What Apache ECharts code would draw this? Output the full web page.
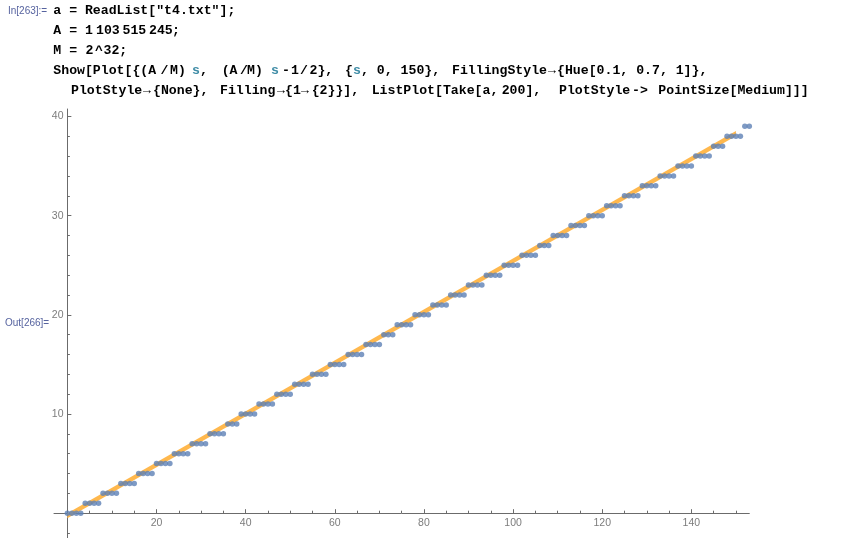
<!DOCTYPE html>
<html><head><meta charset="utf-8">
<script src="https://cdn.jsdelivr.net/npm/echarts@6/dist/echarts.min.js"></script>
<style>html,body{margin:0;padding:0;background:#fff}#c{width:844px;height:538px}</style>
</head><body><div id="c"></div>
<script>
// ListPlot values a[n], plotted at x = xStart + index
const xStart = 0;
const pointValues = [
  0,0,0,0, 1,1,1,1, 2,2,2,2, 3,3,3,3, 4,4,4,4, 5,5,5,5, 6,6,6,6, 7,7,7,7, 8,8,8,8, 9,9,9,
  10,10,10,10, 11,11,11,11, 12,12,12,12, 13,13,13,13, 14,14,14,14, 15,15,15,15, 16,16,16,16, 17,17,17,17, 18,18,18,
  19,19,19,19, 20,20,20,20, 21,21,21,21, 22,22,22,22, 23,23,23,23, 24,24,24,24, 25,25,25,25, 26,26,26,26, 27,27,27,
  28,28,28,28, 29,29,29,29, 30,30,30,30, 31,31,31,31, 32,32,32,32, 33,33,33,33, 34,34,34,34, 35,35,35,35, 36,36,36,36, 37,37,37,
  38,38,38,38, 39,39
];
// filled band between (A/M)s and (A/M)s - 1/2, s from 0 to 150
const bandS = [0, 150];
const bandUpper = [0, 38.54];
const bandLower = [-0.5, 38.04];

const xMajorTicks = [20, 40, 60, 80, 100, 120, 140];
const xMinorTicks = [5, 10, 15, 25, 30, 35, 45, 50, 55, 65, 70, 75, 85, 90, 95, 105, 110, 115, 125, 130, 135, 145, 150];
const yMajorTicks = [10, 20, 30, 40];
const yMinorTicks = [-2, 2, 4, 6, 8, 12, 14, 16, 18, 22, 24, 26, 28, 32, 34, 36, 38];

const TEAL = '#3f8ca6', INK = '#000000';
const codeLines = [
  {y: 11, parts: [['a = ReadList["t4.txt"];', 53.3, INK]]},
  {y: 31, parts: [['A =', 53.3, INK], ['1', 85, INK], ['103', 96, INK], ['515', 122.5, INK], ['245', 149, INK], [';', 172, INK]]},
  {y: 51, parts: [['M =', 53.3, INK], ['2', 85.5, INK], ['^', 95, INK], ['32;', 103.5, INK]]},
  {y: 71, parts: [['Show[Plot[{(A', 53.3, INK], ['/', 160.5, INK], ['M)', 170, INK], ['s', 192, TEAL], [',', 200, INK],
    ['(A', 221.7, INK], ['/', 240, INK], ['M)', 247, INK], ['s', 271, TEAL], ['-', 282, INK], ['1', 291, INK], ['/', 300, INK],
    ['2},', 309.5, INK], ['{', 345, INK], ['s', 353, TEAL], [', 0, 150},', 361, INK], ['FillingStyle', 452, INK],
    ['\u2192', 548, INK], ['{Hue[0.1, 0.7, 1]},', 557, INK]]},
  {y: 91, parts: [['PlotStyle', 71, INK], ['\u2192', 143, INK], ['{None},', 153, INK], ['Filling', 220, INK], ['\u2192', 277, INK],
    ['{1', 285, INK], ['\u2192', 301, INK], ['{2}}],', 311.7, INK], ['ListPlot[Take[a,', 371.7, INK], ['200],', 501.7, INK],
    ['PlotStyle', 559, INK], ['->', 632, INK], ['PointSize[Medium]]]', 658.3, INK]]}
];

const graphics = [];
codeLines.forEach(l => l.parts.forEach(p => {
  graphics.push({type: 'text', x: p[1], y: l.y, silent: true,
    style: {text: p[0], fill: p[2], font: 'bold 13.2px "Liberation Mono", "DejaVu Sans Mono", monospace', verticalAlign: 'middle'}});
}));
graphics.push({type: 'text', x: 8, y: 11, silent: true,
  style: {text: 'In[263]:=', fill: '#56639f', font: '10px "Liberation Sans", Arial, sans-serif', verticalAlign: 'middle'}});
graphics.push({type: 'text', x: 5, y: 323, silent: true,
  style: {text: 'Out[266]=', fill: '#56639f', font: '10px "Liberation Sans", Arial, sans-serif', verticalAlign: 'middle'}});

const AX = '#6b6b6b', LBL = '#7c7c7c';
const chart = echarts.init(document.getElementById('c'), null, {renderer: 'canvas'});
chart.setOption({
  animation: false,
  backgroundColor: '#ffffff',
  graphic: graphics,
  grid: {left: 54, right: 94.7, top: 109, bottom: 0, outerBoundsMode: 'none', containLabel: false},
  xAxis: [
    {type: 'value', position: 'bottom', min: -3, max: 153, splitLine: {show: false},
      axisLine: {onZero: true, lineStyle: {color: AX, width: 1}},
      axisTick: {inside: true, length: 4, customValues: xMajorTicks, lineStyle: {color: AX}},
      axisLabel: {customValues: xMajorTicks, color: LBL, fontSize: 10.5, fontFamily: '"Liberation Sans", Arial, sans-serif', margin: -20.5}},
    {type: 'value', position: 'bottom', min: -3, max: 153, splitLine: {show: false},
      axisLine: {show: false, onZero: true, onZeroAxisIndex: 0},
      axisTick: {inside: true, length: 2.5, customValues: xMinorTicks, lineStyle: {color: AX}},
      axisLabel: {show: false}}
  ],
  yAxis: [
    {type: 'value', position: 'left', min: -2.5, max: 40.75, splitLine: {show: false},
      axisLine: {onZero: true, lineStyle: {color: AX, width: 1}},
      axisTick: {inside: true, length: 4, customValues: yMajorTicks, lineStyle: {color: AX}},
      axisLabel: {customValues: yMajorTicks, color: LBL, fontSize: 10.5, fontFamily: '"Liberation Sans", Arial, sans-serif', margin: -9.5}},
    {type: 'value', position: 'left', min: -2.5, max: 40.75, splitLine: {show: false},
      axisLine: {show: false, onZero: true, onZeroAxisIndex: 0},
      axisTick: {inside: true, length: 2.5, customValues: yMinorTicks, lineStyle: {color: AX}},
      axisLabel: {show: false}}
  ],
  series: [
    {type: 'custom', silent: true, z: 1, xAxisIndex: 0, yAxisIndex: 0,
      data: [[bandS[0], bandLower[0], bandUpper[0], bandS[1], bandLower[1], bandUpper[1]]],
      encode: {x: [0, 3], y: [1, 2, 4, 5]},
      renderItem: function (params, api) {
        const pts = [
          api.coord([api.value(0), api.value(2)]),
          api.coord([api.value(3), api.value(5)]),
          api.coord([api.value(3), api.value(4)]),
          api.coord([api.value(0), api.value(1)])
        ];
        return {type: 'polygon', shape: {points: pts}, style: {fill: '#ffb84d'}};
      }},
    {type: 'scatter', z: 3, xAxisIndex: 0, yAxisIndex: 0, symbolSize: 5.5,
      itemStyle: {color: '#5e81b5'},
      data: pointValues.map((v, i) => [xStart + i, v])}
  ]
});
</script></body></html>
